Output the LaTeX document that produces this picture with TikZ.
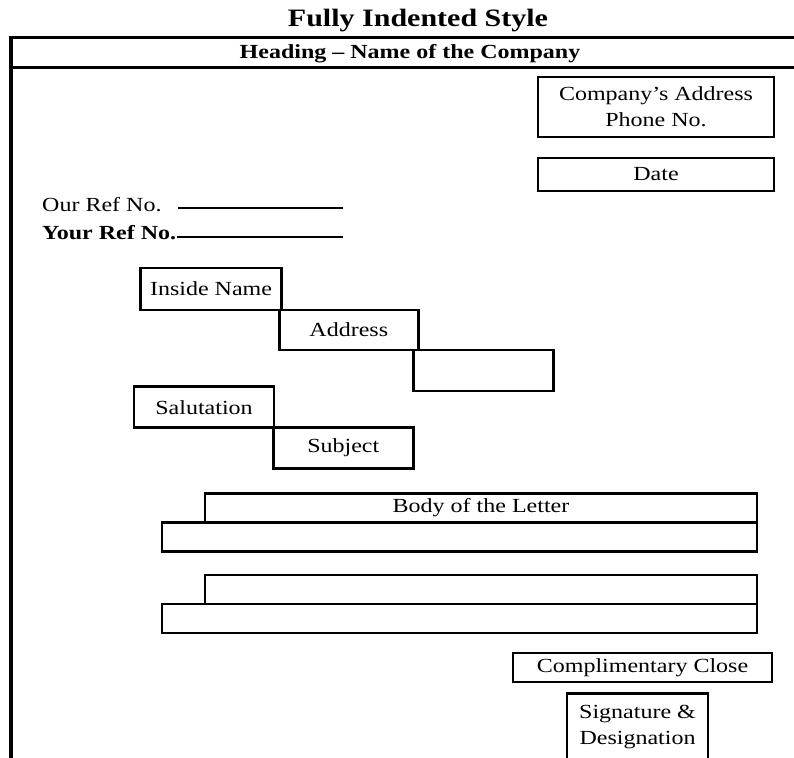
\documentclass[tikz,border=0pt]{standalone}
\usepackage{fontspec}
\setmainfont{Liberation Serif}[FakeStretch=1.2]
\begin{document}
\begin{tikzpicture}[x=1pt,y=-1pt,
  txt/.style={font=\fontsize{20}{26}\selectfont},
  box/.style={draw=black, line width=2.6pt, inner sep=0pt, align=center, txt},
  label/.style={inner sep=0pt, txt},
  refline/.style={line width=2.4pt},
  frame/.style={line width=3pt}]
\clip (0,0) rectangle (794,757);
\fill[white] (0,0) rectangle (794,757);

% title above the page frame
\node[inner sep=0pt, anchor=base, font=\bfseries\fontsize{25}{30}\selectfont] (title) at (418,27) {Fully Indented Style};

% page frame and heading band
\coordinate (tl) at (11,38);
\coordinate (tr) at (800,38);
\coordinate (ml) at (11,68);
\coordinate (mr) at (800,68);
\coordinate (bl) at (11,770);
\draw[frame] (tr) -- (tl);
\draw[frame] (ml) -- (mr);
\draw[line width=4.5pt] (11,36.5) -- (bl);
\node[inner sep=0pt, anchor=base, font=\bfseries\fontsize{20}{24}\selectfont] (heading) at (410,59) {Heading -- Name of the Company};

% sender block
\node[box, minimum width=236pt, minimum height=60pt] (addr) at (656,107) {Company's Address\\Phone No.};
\node[box, minimum width=236pt, minimum height=33pt] (date) at (656,174.5) {Date};

% reference numbers
\node[label, anchor=base west] (our) at (42,211) {Our Ref No.};
\node[label, anchor=base west, font=\bfseries\fontsize{20}{26}\selectfont] (your) at (42,239) {Your Ref No.};
\coordinate (ourend) at (343,208);
\coordinate (yourend) at (343,237);
\coordinate (ourstart) at (178,208);
\coordinate (yourstart) at (177,237);
\draw[refline] (ourstart) -- (ourend);
\draw[refline] (yourstart) -- (yourend);

% inside address, stepped
\node[box, minimum width=141pt, minimum height=42pt] (inside) at (211,289) {Inside Name};
\node[box, minimum width=139pt, minimum height=40pt] (address) at (348.8,330) {Address};
\node[box, minimum width=140pt, minimum height=41pt] (addr3) at (483.3,370.5) {};

% salutation and subject
\node[box, minimum width=140pt, minimum height=41pt] (salut) at (204,407.2) {Salutation};
\node[box, minimum width=140pt, minimum height=41pt] (subject) at (343.3,448) {Subject};

% body paragraphs
\node[box, minimum width=552pt, minimum height=29pt] (body1a) at (481,508) {Body of the Letter};
\node[box, minimum width=595pt, minimum height=29pt] (body1b) at (459.5,537) {};
\node[box, minimum width=552pt, minimum height=29pt] (body2a) at (481,589.5) {};
\node[box, minimum width=595pt, minimum height=29pt] (body2b) at (459.5,618.5) {};

% closing
\node[box, minimum width=259pt, minimum height=29pt] (close) at (642.5,667.5) {Complimentary Close};
\node[box, minimum width=141pt, minimum height=68pt, anchor=north] (sig) at (637.5,692) {Signature \&\\Designation};
\end{tikzpicture}
\end{document}
